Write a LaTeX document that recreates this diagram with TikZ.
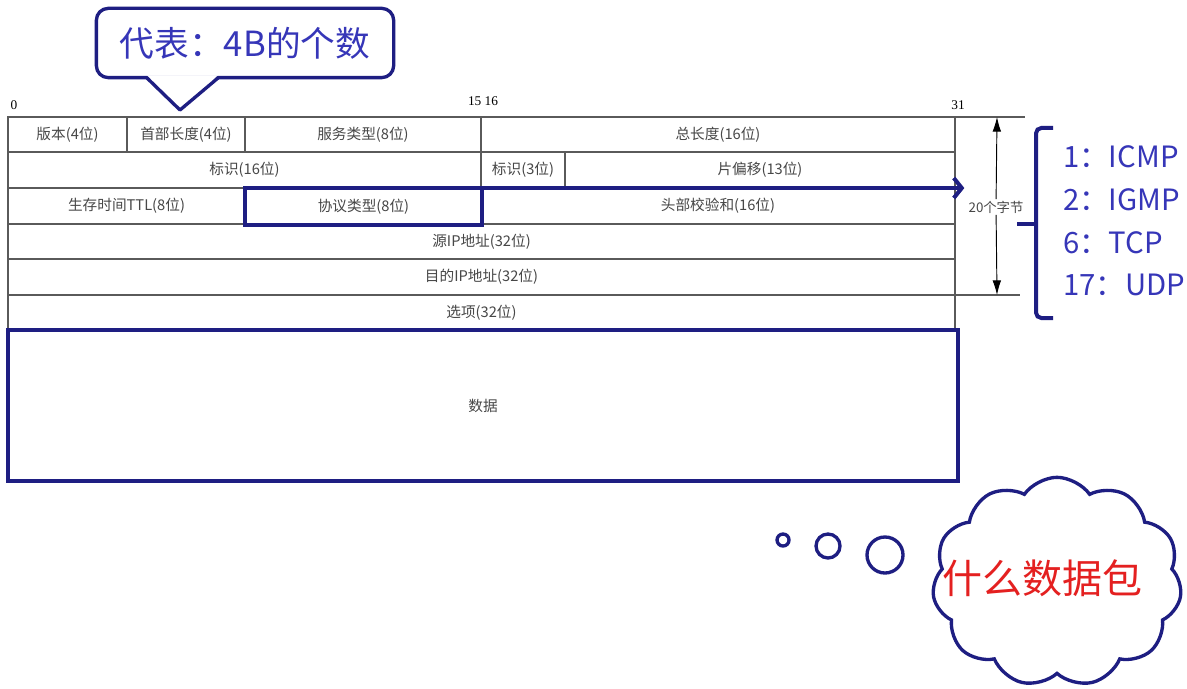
\documentclass[tikz,border=0pt]{standalone}
\usepackage{fontspec}
\setmainfont{Liberation Serif}
\newfontfamily\cjk{Noto Sans CJK SC}
\usetikzlibrary{arrows.meta,shapes.symbols,positioning}

\definecolor{navy}{HTML}{1E1E82}
\definecolor{ink}{HTML}{3636B8}
\definecolor{rule}{HTML}{5A5A5A}
\definecolor{alarm}{HTML}{E42020}

% one header field: [extra style]{name}{x1}{y1}{x2}{y2}{text}, pixel units
\newcommand{\fld}[7][]{%
  \node[cell, minimum width={(#5-#3)*0.75pt}, minimum height={(#6-#4)*0.75pt}, #1]
    (#2) at ({(#3+#5)/2},{(#4+#6)/2}) {#7};}

\begin{document}
\begin{tikzpicture}[x=0.75pt, y=-0.75pt,
    cell/.style={draw=rule, line width=0.9pt, inner sep=0pt, outer sep=0pt, font=\cjk\fontsize{11}{13}\selectfont, text=black!72},
    hot/.style={draw=navy, line width=3pt},
    bit/.style={font=\fontsize{10}{12}\selectfont, inner sep=1pt},
    tick/.style={draw=rule, line width=0.9pt},
    dim/.style={-{Latex[length=11pt,width=6.5pt]}, line width=0.7pt},
    dimlbl/.style={font=\cjk\fontsize{10}{12}\selectfont, text=black!72, fill=white, inner sep=1pt},
    parr/.style={navy, line width=3pt, -{Straight Barb[length=6pt,width=15pt]}},
    note/.style={draw=navy, line width=2.5pt, rounded corners=9pt, fill=white, inner sep=0pt,
      minimum width=223pt, minimum height=52pt, font=\cjk\fontsize{26}{30}\selectfont, text=ink},
    notetail/.style={draw=navy, line width=2.5pt, line join=round},
    pnum/.style={anchor=west, font=\cjk\fontsize{22}{26}\selectfont, text=ink, inner sep=0pt},
    brc/.style={draw=navy, line width=3pt, rounded corners=4pt},
    bub/.style={circle, draw=navy, line width=2.5pt, inner sep=0pt},
    thought/.style={cloud, cloud puffs=11, cloud puff arc=110, cloud ignores aspect, draw=navy, line width=2.5pt, inner sep=0pt},
    ask/.style={font=\cjk\fontsize{30}{34}\selectfont, text=alarm}
]
\fill[white] (0,0) rectangle (1187,688);
\useasboundingbox (0,0) rectangle (1187,688);

% bit positions
\node[bit] (b0) at (14,105) {0};
\node[bit] (b15) at (483,101) {15 16};
\node[bit] (b31) at (958,105) {31};

% header rows
\fld{ver}{8}{117}{127}{152}{版本(4位)}
\fld{hlen}{127}{117}{245}{152}{首部长度(4位)}
\fld{tos}{245}{117}{481}{152}{服务类型(8位)}
\fld{tlen}{481}{117}{955}{152}{总长度(16位)}
\fld{ident}{8}{152}{481}{188}{标识(16位)}
\fld{flags}{481}{152}{565}{188}{标识(3位)}
\fld{frag}{565}{152}{955}{188}{片偏移(13位)}
\fld{ttl}{8}{188}{245}{224}{生存时间TTL(8位)}
\fld{csum}{481}{188}{955}{224}{头部校验和(16位)}
\fld{src}{8}{224}{955}{259}{源IP地址(32位)}
\fld{dst}{8}{259}{955}{295}{目的IP地址(32位)}
\fld{opt}{8}{295}{955}{330}{选项(32位)}
\fld[hot]{proto}{245}{188}{482}{225}{协议类型(8位)}
\fld[hot]{data}{8}{330}{958}{481}{数据}

% 20 byte span
\draw[tick] (905,117) -- (1025,117);
\draw[tick] (900,295) -- (1020,295);
\coordinate (dtop) at (997,117);
\coordinate (dbot) at (997,295);
\node[dimlbl] (span) at (996,207) {20个字节};
\draw[dim] (span) -- (dtop);
\draw[dim] (span) -- (dbot);

\draw[parr] (proto.north east) -- ([xshift=-2pt]span.west |- proto.north);

% protocol numbers
\draw[brc] (1053,128) -- (1036,128) -- (1036,318) -- (1053,318);
\draw[brc] (1036,224) -- (1017,224);
\node[pnum] (p1) at (1063,157) {1：ICMP};
\node[pnum] (p2) at (1063,200) {2：IGMP};
\node[pnum] (p6) at (1063,243) {6：TCP};
\node[pnum] (p17) at (1063,285) {17：UDP};

% callout
\node[note] (unit) at (245,43) {代表：4B的个数};
\coordinate (tl) at (147,78);
\coordinate (tip) at (180,110);
\coordinate (tr) at (218,78);
\fill[white] ([yshift=2pt]tl) -- (tip) -- ([yshift=2pt]tr) -- cycle;
\draw[notetail] (tl) -- (tip) -- (tr);

% thought bubble
\node[bub, minimum size=9pt] (s1) at (783,540) {};
\node[bub, minimum size=18pt] (s2) at (828,546) {};
\node[bub, minimum size=27pt] (s3) at (885,555) {};
\node[thought, minimum width=187pt, minimum height=157pt] (cld) at (1057,582) {};
\node[ask] (what) at (1042,578) {什么数据包};
\end{tikzpicture}
\end{document}
